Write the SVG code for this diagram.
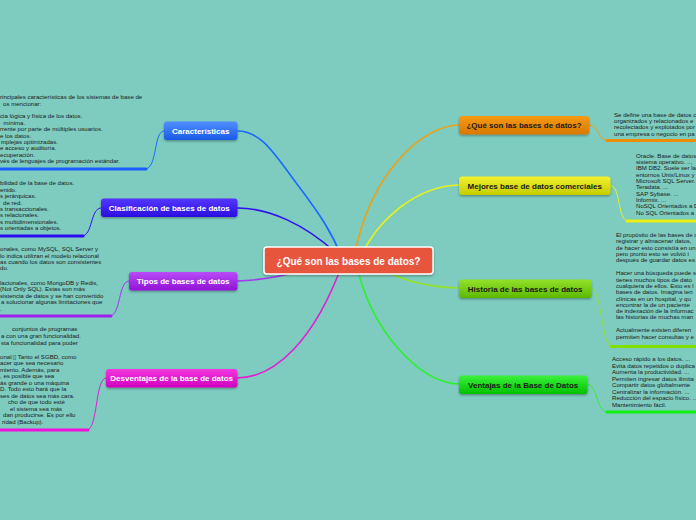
<svg xmlns="http://www.w3.org/2000/svg" width="696" height="520" viewBox="0 0 696 520">
<style>
.t{font-family:"Liberation Sans",Arial,sans-serif;font-size:6.1px;fill:#1a1a1a}
.nl{font-family:"Liberation Sans",Arial,sans-serif;font-size:8px;font-weight:bold;text-anchor:middle}
.w{fill:#ffffff}
.d{fill:#1a1a1a}
.c{fill:none;stroke-linecap:round}
.m{stroke-width:1.6}
.s{stroke-width:1}
.u{stroke-width:3}
</style>
<defs>
<filter id="sh" x="-10%" y="-30%" width="120%" height="170%">
<feDropShadow dx="0" dy="1.2" stdDeviation="1" flood-color="#000" flood-opacity="0.35"/>
</filter>
<linearGradient id="gBlue" x1="0" y1="0" x2="0" y2="1"><stop offset="0" stop-color="#4f8fff"/><stop offset="1" stop-color="#1a5ae8"/></linearGradient>
<linearGradient id="gInd" x1="0" y1="0" x2="0" y2="1"><stop offset="0" stop-color="#5538ff"/><stop offset="1" stop-color="#2a0ce0"/></linearGradient>
<linearGradient id="gPur" x1="0" y1="0" x2="0" y2="1"><stop offset="0" stop-color="#b84cf8"/><stop offset="1" stop-color="#9212d6"/></linearGradient>
<linearGradient id="gMag" x1="0" y1="0" x2="0" y2="1"><stop offset="0" stop-color="#f23ade"/><stop offset="1" stop-color="#d000c0"/></linearGradient>
<linearGradient id="gOra" x1="0" y1="0" x2="0" y2="1"><stop offset="0" stop-color="#f79a14"/><stop offset="1" stop-color="#d87800"/></linearGradient>
<linearGradient id="gYel" x1="0" y1="0" x2="0" y2="1"><stop offset="0" stop-color="#f2f230"/><stop offset="1" stop-color="#c4cc00"/></linearGradient>
<linearGradient id="gGrn" x1="0" y1="0" x2="0" y2="1"><stop offset="0" stop-color="#92e22a"/><stop offset="1" stop-color="#5cb800"/></linearGradient>
<linearGradient id="gLime" x1="0" y1="0" x2="0" y2="1"><stop offset="0" stop-color="#3cf23c"/><stop offset="1" stop-color="#00c000"/></linearGradient>
</defs>
<rect x="0" y="0" width="696" height="520" fill="#7dccbf"/>

<g id="connectors">
<path class="c m" stroke="#1a6aff" d="M237.5,131 C262,131 275,155 300,188 C318,212 332,232 342,258"/>
<path class="c m" stroke="#3010f0" d="M237.5,208 C270,208 305,225 335,252"/>
<path class="c m" stroke="#a535f0" d="M237.5,281 C265,280 285,276 320,265"/>
<path class="c m" stroke="#e020d0" d="M237,378 C275,378 315,340 343,262"/>
<path class="c m" stroke="#f0a010" d="M459,125 C425,125 370,170 354,258"/>
<path class="c m" stroke="#e6f020" d="M459,185 C420,186 380,215 360,258"/>
<path class="c m" stroke="#92e030" d="M459,288 C420,287 395,278 370,262"/>
<path class="c m" stroke="#30f030" d="M459,384 C420,384 370,330 356,262"/>

<path class="c s" stroke="#1a6aff" d="M164,131 C153,131 158,169 145,169"/>
<path class="c u" stroke="#1a5cff" d="M0,169 H146"/>
<path class="c s" stroke="#3010f0" d="M101,208 C90,208 93,236 82,236"/>
<path class="c u" stroke="#2a0cf0" d="M0,236 H83"/>
<path class="c s" stroke="#a535f0" d="M129,281 C118,281 121,316 110,316"/>
<path class="c u" stroke="#a020f0" d="M0,316 H111"/>
<path class="c s" stroke="#e020d0" d="M106,378 C95,378 98,430 87,430"/>
<path class="c u" stroke="#ee10d8" d="M0,430 H88"/>

<path class="c s" stroke="#f0a010" d="M589,125 C600,125 597,140.5 608,140.5"/>
<path class="c u" stroke="#f08c00" d="M607,140.5 H696"/>
<path class="c s" stroke="#e6f020" d="M610.5,185.5 C621,185.5 617,221 628,221"/>
<path class="c u" stroke="#e8f010" d="M627,221 H696"/>
<path class="c s" stroke="#92e030" d="M591.5,288.5 C602,288.5 601,346.5 612,346.5"/>
<path class="c u" stroke="#80e000" d="M611,346.5 H696"/>
<path class="c s" stroke="#30f030" d="M587.5,384.5 C598,384.5 596,412 607,412"/>
<path class="c u" stroke="#10f010" d="M607,412 H696"/>
</g>

<g id="center">
<rect x="264" y="247" width="169" height="27" rx="3" fill="#e8543d" stroke="#ffffff" stroke-width="1.5" filter="url(#sh)"/>
<text class="nl w" x="348.5" y="264.5" style="font-size:10px">¿Qué son las bases de datos?</text>
</g>

<g id="caracteristicas">
<rect x="164" y="121.5" width="73.5" height="18.5" rx="3" fill="url(#gBlue)" filter="url(#sh)"/>
<text class="nl w" x="200.7" y="133.8">Características</text>
</g>
<g id="clasificacion">
<rect x="101" y="198.5" width="136.5" height="18.5" rx="3" fill="url(#gInd)" filter="url(#sh)"/>
<text class="nl w" x="169.3" y="210.8">Clasificación de bases de datos</text>
</g>
<g id="tipos">
<rect x="129" y="272" width="108.5" height="18.5" rx="3" fill="url(#gPur)" filter="url(#sh)"/>
<text class="nl w" x="183.2" y="284.3">Tipos de bases de datos</text>
</g>
<g id="desventajas">
<rect x="106" y="369" width="131.5" height="18.5" rx="3" fill="url(#gMag)" filter="url(#sh)"/>
<text class="nl w" x="171.7" y="381.3">Desventajas de la base de datos</text>
</g>
<g id="que-son">
<rect x="459" y="116" width="130" height="18.5" rx="3" fill="url(#gOra)" filter="url(#sh)"/>
<text class="nl d" x="524" y="128.3">¿Qué son las bases de datos?</text>
</g>
<g id="mejores">
<rect x="459" y="176.5" width="151.5" height="18.5" rx="3" fill="url(#gYel)" filter="url(#sh)"/>
<text class="nl d" x="534.7" y="188.8">Mejores base de datos comerciales</text>
</g>
<g id="historia">
<rect x="459" y="279.5" width="132.5" height="18.5" rx="3" fill="url(#gGrn)" filter="url(#sh)"/>
<text class="nl d" x="525.2" y="291.8">Historia de las bases de datos</text>
</g>
<g id="ventajas">
<rect x="459" y="375.5" width="128.5" height="18.5" rx="3" fill="url(#gLime)" filter="url(#sh)"/>
<text class="nl d" x="523.2" y="387.8">Ventajas de la Base de Datos</text>
</g>

<g id="texto-caracteristicas">
<text class="t">
<tspan x="0" y="99.4">rincipales características de los sistemas de base de</tspan>
<tspan x="3" y="105.8">os mencionar:</tspan>
<tspan x="0" y="118.3">cia lógica y física de los datos.</tspan>
<tspan x="3.5" y="124.7">mínima.</tspan>
<tspan x="0" y="131.1">rrente por parte de múltiples usuarios.</tspan>
<tspan x="0" y="137.5">e los datos.</tspan>
<tspan x="1" y="143.9">mplejas optimizadas.</tspan>
<tspan x="0" y="150.3">e acceso y auditoría.</tspan>
<tspan x="0" y="156.7">ecuperación.</tspan>
<tspan x="0" y="163.1">vés de lenguajes de programación estándar.</tspan>
</text>
</g>
<g id="texto-clasificacion">
<text class="t">
<tspan x="0" y="185.4">bilidad de la base de datos.</tspan>
<tspan x="0" y="191.8">enido.</tspan>
<tspan x="0" y="198.2">s jerárquicas.</tspan>
<tspan x="3" y="204.6">de red.</tspan>
<tspan x="0" y="211">s transaccionales.</tspan>
<tspan x="0" y="217.4">s relacionales.</tspan>
<tspan x="0" y="223.8">s multidimensionales.</tspan>
<tspan x="0" y="230.2">s orientadas a objetos.</tspan>
</text>
</g>
<g id="texto-tipos">
<text class="t">
<tspan x="0" y="251.1">onales, como MySQL, SQL Server y</tspan>
<tspan x="0" y="257.5">lo indica utilizan el modelo relacional</tspan>
<tspan x="0" y="263.9">as cuando los datos son consistentes</tspan>
<tspan x="0" y="270.4">do.</tspan>
<tspan x="0" y="284.8">lacionales, como MongoDB y Redis,</tspan>
<tspan x="0" y="291.3">(Not Only SQL). Estas son más</tspan>
<tspan x="0" y="297.8">sistencia de datos y se han convertido</tspan>
<tspan x="1" y="304.3">a solucionar algunas limitaciones que</tspan>
<tspan x="0" y="310.8">.</tspan>
</text>
</g>
<g id="texto-desventajas">
<text class="t">
<tspan x="12" y="331.4">conjuntos de programas</tspan>
<tspan x="1" y="338">a con una gran funcionalidad.</tspan>
<tspan x="1" y="344.6">sta funcionalidad para poder</tspan>
<tspan x="0" y="358.8">onal:▯ Tanto el SGBD, como</tspan>
<tspan x="0" y="365.3">acer que sea necesario</tspan>
<tspan x="0" y="371.8">miento. Además, para</tspan>
<tspan x="0" y="378.3">, es posible que sea</tspan>
<tspan x="0" y="384.8">ás grande o una máquina</tspan>
<tspan x="0" y="391.3">D. Todo esto hará que la</tspan>
<tspan x="0" y="397.8">ses de datos sea más cara.</tspan>
<tspan x="8" y="404.3">cho de que todo esté</tspan>
<tspan x="10" y="410.8">el sistema sea más</tspan>
<tspan x="3" y="417.3">dan producirse. Es por ello</tspan>
<tspan x="2" y="423.8">ridad (Backup).</tspan>
</text>
</g>
<g id="texto-que-son">
<text class="t">
<tspan x="614" y="116.5">Se define una base de datos c</tspan>
<tspan x="614" y="122.9">organizados y relacionados e</tspan>
<tspan x="614" y="129.3">recolectados y explotados por</tspan>
<tspan x="614" y="135.7">una empresa o negocio en pa</tspan>
</text>
</g>
<g id="texto-mejores">
<text class="t">
<tspan x="636" y="157.6">Oracle. Base de datos</tspan>
<tspan x="636" y="164">sistema operativo. ..,</tspan>
<tspan x="636" y="170.3">IBM DB2. Suele ser la</tspan>
<tspan x="636" y="176.7">entornos Unix/Linux y</tspan>
<tspan x="636" y="183">Microsoft SQL Server.</tspan>
<tspan x="636" y="189.4">Teradata. ...</tspan>
<tspan x="636" y="195.7">SAP Sybase. ...</tspan>
<tspan x="636" y="202.1">Informix. ...</tspan>
<tspan x="636" y="208.4">NoSQL Orientados a D</tspan>
<tspan x="636" y="214.8">No SQL Orientados a</tspan>
</text>
</g>
<g id="texto-historia">
<text class="t">
<tspan x="616" y="237.1">El propósito de las bases de d</tspan>
<tspan x="616" y="243.4">registrar y almacenar datos,</tspan>
<tspan x="616" y="249.7">de hacer esto consistía en un</tspan>
<tspan x="616" y="256">pero pronto esto se volvió i</tspan>
<tspan x="616" y="262.3">después de guardar datos es</tspan>
<tspan x="616" y="275.3">Hacer una búsqueda puede s</tspan>
<tspan x="616" y="281.6">tienes muchos tipos de dato</tspan>
<tspan x="616" y="287.9">cualquiera de ellos. Esto es l</tspan>
<tspan x="616" y="294.2">bases de datos. Imagina ten</tspan>
<tspan x="616" y="300.5">clínicas en un hospital, y qu</tspan>
<tspan x="616" y="306.8">encontrar la de un paciente</tspan>
<tspan x="616" y="313.1">de indexación de la informac</tspan>
<tspan x="616" y="319.4">las historias de muchas man</tspan>
<tspan x="616" y="332.4">Actualmente existen diferen</tspan>
<tspan x="616" y="338.7">permiten hacer consultas y e</tspan>
</text>
</g>
<g id="texto-ventajas">
<text class="t">
<tspan x="612" y="361.1">Acceso rápido a los datos. ...</tspan>
<tspan x="612" y="367.65">Evita datos repetidos o duplica</tspan>
<tspan x="612" y="374.2">Aumenta la productividad. ...</tspan>
<tspan x="612" y="380.75">Permiten ingresar datos ilimita</tspan>
<tspan x="612" y="387.3">Compartir datos globalmente</tspan>
<tspan x="612" y="393.85">Centralizar la información. ...</tspan>
<tspan x="612" y="400.4">Reducción del espacio físico. ...</tspan>
<tspan x="612" y="406.95">Mantenimiento fácil.</tspan>
</text>
</g>
</svg>
